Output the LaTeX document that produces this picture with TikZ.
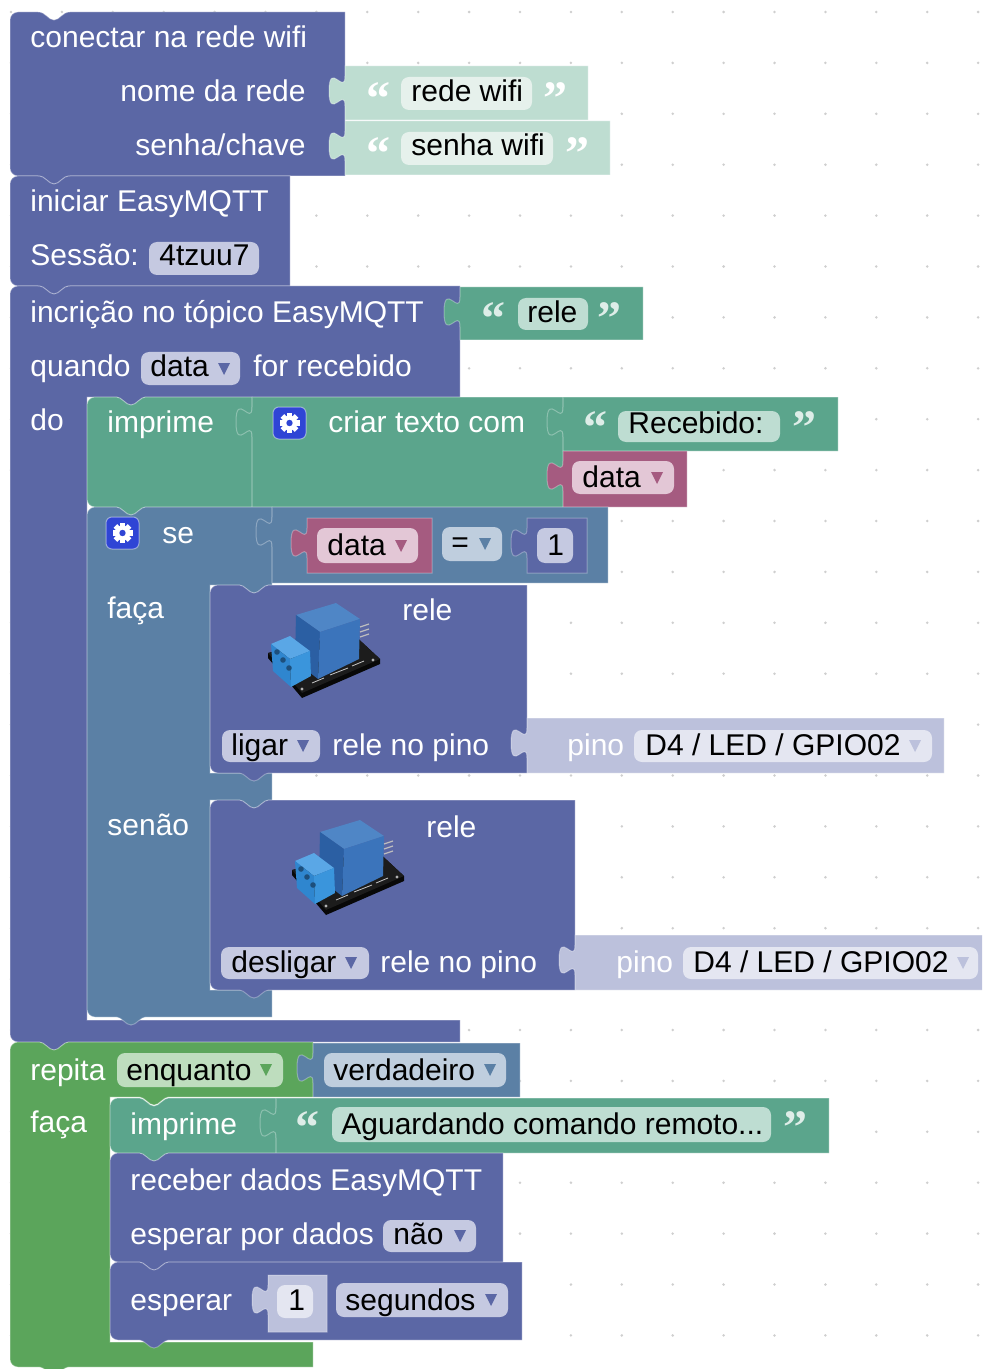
\documentclass[tikz,border=0pt]{standalone}
\usepackage{fontspec}
\setmainfont{Liberation Sans}
\newfontfamily\quotefont{Liberation Serif}

% block colours
\definecolor{procblue}{HTML}{5B67A5}
\definecolor{textgreen}{HTML}{5BA58C}
\definecolor{varpink}{HTML}{A55B80}
\definecolor{logicblue}{HTML}{5B80A5}
\definecolor{loopgreen}{HTML}{5BA55B}
\definecolor{paleteal}{HTML}{BEDDD1}
\definecolor{palelav}{HTML}{BCC1DC}
% field colours
\definecolor{fldproc}{HTML}{C5C9E1}
\definecolor{fldtext}{HTML}{BEDDD2}
\definecolor{fldteal}{HTML}{E6F1EC}
\definecolor{fldvar}{HTML}{E3C7D6}
\definecolor{fldlogic}{HTML}{BFCEDE}
\definecolor{fldloop}{HTML}{BEDDBE}
\definecolor{fldlav}{HTML}{E4E6F1}
\definecolor{gearblue}{HTML}{2F45D5}
\definecolor{gridc}{HTML}{CFCFCF}
% relay module colours
\definecolor{pcbtop}{HTML}{1C1C1C}
\definecolor{pcbdark}{HTML}{080808}
\definecolor{relaytop}{HTML}{4F86C6}
\definecolor{relayleft}{HTML}{2B5FA3}
\definecolor{relayfront}{HTML}{3B74BB}
\definecolor{termtop}{HTML}{5AA7E6}
\definecolor{termleft}{HTML}{2F86CF}
\definecolor{termfront}{HTML}{3A95DC}
\definecolor{termdark}{HTML}{1D4F7C}

% path pieces (pixel units, y downwards)
\newcommand\notchR[2]{-- (#1+28,#2) .. controls (#1+36,#2) and (#1+38,#2+8) .. (#1+44,#2+8) .. controls (#1+50,#2+8) and (#1+52,#2) .. (#1+60,#2)}
\newcommand\notchL[2]{-- (#1+60,#2) .. controls (#1+52,#2) and (#1+50,#2+8) .. (#1+44,#2+8) .. controls (#1+38,#2+8) and (#1+36,#2) .. (#1+28,#2)}
\newcommand\tabUp[2]{-- (#1,#2+40) .. controls (#1,#2+20) and (#1-16,#2+56) .. (#1-16,#2+25) .. controls (#1-16,#2-6) and (#1,#2+30) .. (#1,#2+10)}
\newcommand\stmtshape[4]{(#1,#2+8) .. controls (#1,#2+3.6) and (#1+3.6,#2) .. (#1+8,#2) \notchR{#1}{#2} -- (#3,#2) -- (#3,#4) \notchL{#1}{#4} -- (#1+8,#4) .. controls (#1+3.6,#4) and (#1,#4-3.6) .. (#1,#4-8) -- cycle}
\newcommand\valshape[4]{(#1,#2) -- (#3,#2) -- (#3,#4) -- (#1,#4) \tabUp{#1}{#2} -- cycle}
% dropdown triangle centred on (x,y)
\newcommand\dropArrow[3]{\fill[#3] (#1-6,#2-6) -- (#1+6,#2-6) -- (#1,#2+6) -- cycle;}
\newcommand\gearicon[2]{%
  \fill[gearblue, rounded corners=3pt] (#1,#2) rectangle (#1+33,#2+32);
  \draw[white, draw opacity=0.45, rounded corners=3pt, line width=0.5pt] (#1,#2) rectangle (#1+33,#2+32);
  \begin{scope}[shift={(#1+16.5,#2+16)}]
    \foreach \a in {0,45,90,135} \fill[white, rotate=\a] (-2.6,-10) rectangle (2.6,10);
    \fill[white] (0,0) circle[radius=7.5];
    \fill[gearblue] (0,0) circle[radius=3.2];
  \end{scope}}
\newcommand\relaymodule{%
  \fill[pcbdark] (0,55) -- (34,95) -- (112,61) -- (112,56) -- (84,30) -- (0,50) -- cycle;
  \fill[pcbtop] (0,50) -- (34,90) -- (112,56) -- (84,30) -- cycle;
  \fill[gray!60] (7,52) circle[radius=1.6] (34,86) circle[radius=1.6] (105,57) circle[radius=1.6];
  \draw[gray!45, line width=0.4pt] (44,80) -- (56,75) (62,72) -- (80,65) (84,63) -- (96,58);
  \fill[relaytop] (28,12) -- (68,0) -- (92,16) -- (52,29) -- cycle;
  \fill[relayleft] (28,12) -- (52,29) -- (50,76) -- (27,58) -- cycle;
  \fill[relayfront] (52,29) -- (92,16) -- (91,56) -- (50,76) -- cycle;
  \draw[gray!50, line width=0.6pt] (92,24) -- (101,21) (92,29) -- (101,26) (92,34) -- (101,31);
  \fill[termtop] (3,41) -- (22,33) -- (42,48) -- (22,56) -- cycle;
  \fill[termleft] (3,41) -- (22,56) -- (23,84) -- (5,68) -- cycle;
  \fill[termfront] (22,56) -- (42,48) -- (43,73) -- (23,84) -- cycle;
  \fill[termdark] (9,49) circle[radius=2.8] (15,57) circle[radius=2.8] (21,65) circle[radius=2.8];}

\begin{document}
\begin{tikzpicture}[x=0.5pt,y=-0.5pt,
  blk/.style={fill=#1, draw=white, draw opacity=0.3, line width=0.5pt},
  fld/.style={fill=#1, rounded corners=4pt},
  lbl/.style={anchor=base west, inner sep=0pt, text=white, font=\fontsize{15}{18}\selectfont},
  lblr/.style={lbl, anchor=base east},
  ftxt/.style={anchor=base west, inner sep=0pt, text=black, font=\fontsize{15}{18}\selectfont},
  quo/.style={anchor=north west, inner sep=0pt, font=\quotefont\bfseries\fontsize{24}{24}\selectfont}]

\useasboundingbox (0,0) rectangle (982,1369);
\clip (0,0) rectangle (982,1369);
\fill[white] (0,0) rectangle (982,1369);

% workspace grid
\foreach \i in {0,...,19}
  \foreach \j in {0,...,26}
    \fill[gridc] (11+50.9*\i,12+50.9*\j) circle[radius=1.4];

% ---------- block shapes ----------
% wifi connection
\path[blk=procblue] \stmtshape{10}{12}{345}{176};
\path[blk=paleteal] \valshape{345}{66}{588}{120};
\path[blk=paleteal] \valshape{345}{121}{610}{175};
% EasyMQTT start
\path[blk=procblue] \stmtshape{10}{176}{290}{286};
% topic subscription (C block)
\path[blk=procblue] (10,294) .. controls (10,289.6) and (13.6,286) .. (18,286) \notchR{10}{286}
  -- (460,286) -- (460,397) \notchL{87}{397} -- (87,397) -- (87,1020) -- (460,1020) -- (460,1042)
  \notchL{10}{1042} -- (18,1042) .. controls (13.6,1042) and (10,1038.4) .. (10,1034) -- cycle;
\path[blk=textgreen] \valshape{460}{287}{643}{340};
% print of joined text
\path[blk=textgreen] \stmtshape{87}{397}{252}{507};
\path[blk=textgreen] \valshape{252}{397}{563}{507};
\path[blk=textgreen] \valshape{563}{397}{838}{451};
\path[blk=varpink] \valshape{563}{451}{687}{507};
% if / else (C block with two inputs)
\path[blk=logicblue] (87,515) .. controls (87,510.6) and (90.6,507) .. (95,507) \notchR{87}{507}
  -- (272,507) -- (272,585) \notchL{210}{585} -- (210,585) -- (210,773) -- (272,773) -- (272,800)
  \notchL{210}{800} -- (210,800) -- (210,990) -- (272,990) -- (272,1017)
  \notchL{87}{1017} -- (95,1017) .. controls (90.6,1017) and (87,1013.4) .. (87,1009) -- cycle;
\path[blk=logicblue] \valshape{272}{507}{608}{583};
\path[blk=varpink] \valshape{307}{518}{432}{573};
\path[blk=procblue] \valshape{527}{518}{587}{573};
% relay on / off
\path[blk=procblue] \stmtshape{210}{585}{527}{773};
\path[blk=palelav] \valshape{527}{718}{944}{773};
\path[blk=procblue] \stmtshape{210}{800}{575}{990};
\path[blk=palelav] \valshape{575}{935}{995}{990};
% while loop (C block)
\path[blk=loopgreen] (10,1050) .. controls (10,1045.6) and (13.6,1042) .. (18,1042) \notchR{10}{1042}
  -- (313,1042) -- (313,1097) \notchL{110}{1097} -- (110,1097) -- (110,1342) -- (313,1342) -- (313,1367)
  \notchL{10}{1367} -- (18,1367) .. controls (13.6,1367) and (10,1363.4) .. (10,1359) -- cycle;
\path[blk=logicblue] \valshape{313}{1043}{520}{1097};
\path[blk=textgreen] \stmtshape{110}{1098}{276}{1153};
\path[blk=textgreen] \valshape{276}{1098}{829}{1153};
\path[blk=procblue] \stmtshape{110}{1153}{503}{1262};
\path[blk=procblue] \stmtshape{110}{1262}{522}{1340};
\path[blk=palelav] \valshape{268}{1275}{327}{1332};

% ---------- fields ----------
\path[fld=fldteal] (401,77) rectangle (532,110);
\path[fld=fldteal] (401,132) rectangle (553,165);
\path[fld=fldproc] (149,242) rectangle (259,275);
\path[fld=fldtext] (518,298) rectangle (588,330);
\path[fld=fldproc] (141,352) rectangle (240,385);
\path[fld=fldtext] (618,411) rectangle (780,442);
\path[fld=fldvar] (572,461) rectangle (674,494);
\path[fld=fldvar] (317,528) rectangle (418,563);
\path[fld=fldlogic] (442,527) rectangle (502,561);
\path[fld=fldproc] (537,528) rectangle (573,563);
\path[fld=fldproc] (222,730) rectangle (320,762);
\path[fld=fldlav] (634,730) rectangle (932,762);
\path[fld=fldproc] (221,947) rectangle (369,979);
\path[fld=fldlav] (683,947) rectangle (978,979);
\path[fld=fldloop] (117,1053) rectangle (283,1087);
\path[fld=fldlogic] (324,1053) rectangle (506,1087);
\path[fld=fldtext] (332,1107) rectangle (771,1142);
\path[fld=fldproc] (383,1220) rectangle (476,1252);
\path[fld=fldlav] (277,1285) rectangle (313,1318);
\path[fld=fldproc] (336,1283) rectangle (508,1317);

% dropdown arrows
\dropArrow{224}{369}{procblue}
\dropArrow{657}{478}{varpink}
\dropArrow{401}{546}{varpink}
\dropArrow{485}{544}{logicblue}
\dropArrow{303}{746}{procblue}
\dropArrow{915}{746}{palelav}
\dropArrow{351}{963}{procblue}
\dropArrow{963}{963}{palelav}
\dropArrow{266}{1070}{loopgreen}
\dropArrow{490}{1070}{logicblue}
\dropArrow{460}{1236}{procblue}
\dropArrow{491}{1300}{procblue}

% mutator icons
\gearicon{273}{407}
\gearicon{106}{517}

% relay pictures
\begin{scope}[shift={(268,603)}]\relaymodule\end{scope}
\begin{scope}[shift={(292,820)}]\relaymodule\end{scope}

% ---------- texts ----------
\node[lbl] (conectar) at (30,48) {conectar na rede wifi};
\node[lblr] (nomerede) at (306,102) {nome da rede};
\node[lblr] (senhachave) at (306,156) {senha/chave};
\node[quo, text=white] (q1a) at (366,82) {“};
\node[ftxt] (redewifi) at (411,102) {rede wifi};
\node[quo, text=white] (q1b) at (543,82) {”};
\node[quo, text=white] (q2a) at (366,137) {“};
\node[ftxt] (senhawifi) at (411,156) {senha wifi};
\node[quo, text=white] (q2b) at (565,137) {”};

\node[lbl] (iniciar) at (30,212) {iniciar EasyMQTT};
\node[lbl] (sessao) at (30,266) {Sessão:};
\node[ftxt] (sessid) at (159,266) {4tzuu7};

\node[lbl] (inscricao) at (30,322) {incrição no tópico EasyMQTT};
\node[quo, text=white!80!textgreen] (q3a) at (481,302) {“};
\node[ftxt] (topico) at (527,322) {rele};
\node[quo, text=white!80!textgreen] (q3b) at (597,302) {”};
\node[lbl] (quando) at (30,377) {quando};
\node[ftxt] (quandovar) at (150,377) {data};
\node[lbl] (recebido) at (253,377) {for recebido};
\node[lbl] (dolbl) at (30,430) {do};

\node[lbl] (imprime1) at (107,432) {imprime};
\node[lbl] (criar) at (328,432) {criar texto com};
\node[quo, text=white!80!textgreen] (q4a) at (583,411) {“};
\node[ftxt] (recebtxt) at (628,433) {Recebido:};
\node[quo, text=white!80!textgreen] (q4b) at (792,411) {”};
\node[ftxt] (joinvar) at (582,487) {data};

\node[lbl] (se) at (162,543) {se};
\node[ftxt] (cmpvar) at (327,555) {data};
\node[ftxt] (cmpop) at (451,552) {=};
\node[ftxt] (cmpnum) at (547,555) {1};

\node[lbl] (faca1) at (107,618) {faça};
\node[lbl] (rele1) at (402,620) {rele};
\node[ftxt] (ligar) at (231,755) {ligar};
\node[lbl] (relepino1) at (332,755) {rele no pino};
\node[lbl] (pino1) at (567,755) {pino};
\node[ftxt] (gpio1) at (645,755) {D4 / LED / GPIO02};

\node[lbl] (senao) at (107,835) {senão};
\node[lbl] (rele2) at (426,837) {rele};
\node[ftxt] (desligar) at (231,972) {desligar};
\node[lbl] (relepino2) at (380,972) {rele no pino};
\node[lbl] (pino2) at (616,972) {pino};
\node[ftxt] (gpio2) at (693,972) {D4 / LED / GPIO02};

\node[lbl] (repita) at (30,1080) {repita};
\node[ftxt] (enquanto) at (126,1080) {enquanto};
\node[ftxt] (verdadeiro) at (333,1080) {verdadeiro};
\node[lbl] (faca2) at (30,1132) {faça};
\node[lbl] (imprime2) at (130,1134) {imprime};
\node[quo, text=white!80!textgreen] (q5a) at (295,1111) {“};
\node[ftxt] (aguardando) at (341,1134) {Aguardando comando remoto...};
\node[quo, text=white!80!textgreen] (q5b) at (783,1111) {”};
\node[lbl] (receber) at (130,1190) {receber dados EasyMQTT};
\node[lbl] (esperarpor) at (130,1244) {esperar por dados};
\node[ftxt] (nao) at (393,1244) {não};
\node[lbl] (esperar) at (130,1310) {esperar};
\node[ftxt] (esperanum) at (288,1310) {1};
\node[ftxt] (segundos) at (345,1310) {segundos};
\end{tikzpicture}
\end{document}
